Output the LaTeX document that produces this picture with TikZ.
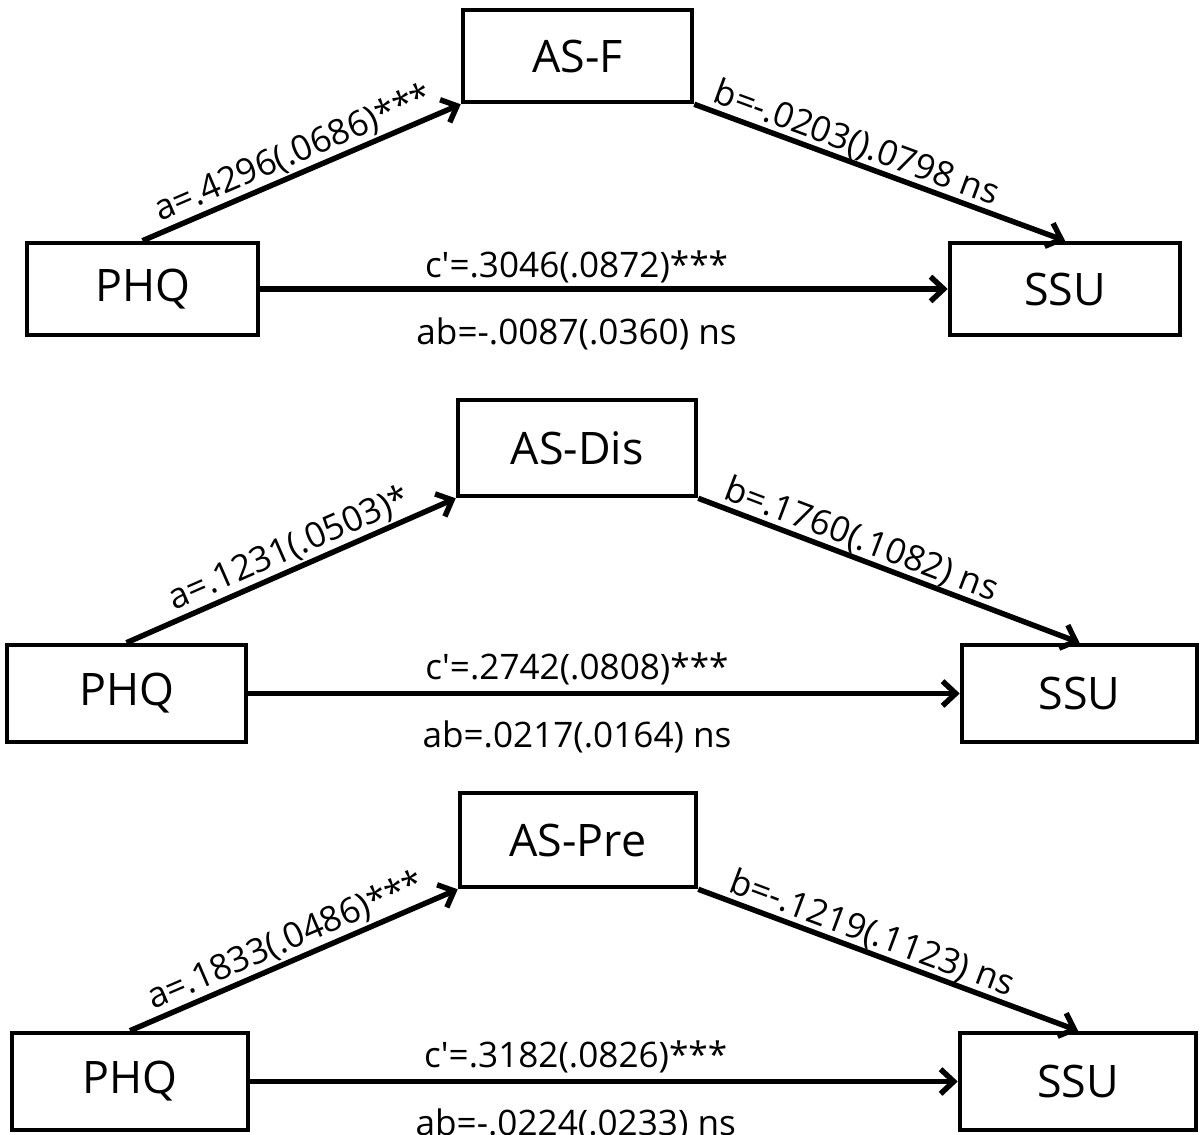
\documentclass[tikz,border=0pt]{standalone}
\usepackage{fontspec}
\setmainfont{Open Sans}
\usetikzlibrary{arrows.meta}
\tikzset{
  varbox/.style={draw, line width=2.6pt, inner sep=0pt, font=\fontsize{25.5}{30}\selectfont},
  path/.style={line width=3.1pt, -{Straight Barb[length=7.5pt,width=14pt]}},
  lab/.style={font=\fontsize{20}{24}\selectfont, inner sep=1pt},
}
\newcommand{\pr}{\textquotesingle}
\begin{document}
\begin{tikzpicture}[x=0.02cm,y=-0.02cm]
\useasboundingbox (0,0) rectangle (1200,1135);
% ---------- Panel 1 ----------
\node[varbox, minimum width=229*0.02cm, minimum height=92*0.02cm] (m1) at (577.5,56) {AS-F};
\node[varbox, minimum width=231*0.02cm, minimum height=92*0.02cm] (x1) at (142.5,289) {PHQ};
\node[varbox, minimum width=230*0.02cm, minimum height=92*0.02cm] (y1) at (1065,289) {SSU};
\draw[path] (x1.north) -- node[lab, pos=0.5, sloped, above] (la1) {a=.4296(.0686)***} (m1.south west);
\draw[path] (m1.south east) -- node[lab, pos=0.42, sloped, above, inner sep=0pt] (lb1) {b=-.0203().0798 ns} (y1.north);
\draw[path] (x1.east) -- node[lab, pos=0.46, above=1pt] (lc1) {c\pr=.3046(.0872)***}
  node[lab, pos=0.46, below=14pt] (lab1) {ab=-.0087(.0360) ns} (y1.west);
% ---------- Panel 2 ----------
\node[varbox, minimum width=238*0.02cm, minimum height=96*0.02cm] (m2) at (577,448) {AS-Dis};
\node[varbox, minimum width=239*0.02cm, minimum height=97*0.02cm] (x2) at (126.5,693.5) {PHQ};
\node[varbox, minimum width=235*0.02cm, minimum height=97*0.02cm] (y2) at (1079.5,693.5) {SSU};
\draw[path] (x2.north) -- node[lab, pos=0.52, sloped, above] (la2) {a=.1231(.0503)*} (m2.south west);
\draw[path] (m2.south east) -- node[lab, pos=0.41, sloped, above, inner sep=0pt] (lb2) {b=.1760(.1082) ns} (y2.north);
\draw[path] (x2.east) -- node[lab, pos=0.462, above=2pt] (lc2) {c\pr=.2742(.0808)***}
  node[lab, pos=0.462, below=13pt] (lab2) {ab=.0217(.0164) ns} (y2.west);
% ---------- Panel 3 ----------
\node[varbox, minimum width=236*0.02cm, minimum height=94*0.02cm] (m3) at (578,840) {AS-Pre};
\node[varbox, minimum width=236*0.02cm, minimum height=97*0.02cm] (x3) at (130,1081.5) {PHQ};
\node[varbox, minimum width=236*0.02cm, minimum height=97*0.02cm] (y3) at (1078,1081.5) {SSU};
\draw[path] (x3.north) -- node[lab, pos=0.5, sloped, above] (la3) {a=.1833(.0486)***} (m3.south west);
\draw[path] (m3.south east) -- node[lab, pos=0.44, sloped, above, inner sep=0pt] (lb3) {b=-.1219(.1123) ns} (y3.north);
\draw[path] (x3.east) -- node[lab, pos=0.46, above=2pt] (lc3) {c\pr=.3182(.0826)***}
  node[lab, pos=0.46, below=13pt] (lab3) {ab=-.0224(.0233) ns} (y3.west);
\end{tikzpicture}
\end{document}
